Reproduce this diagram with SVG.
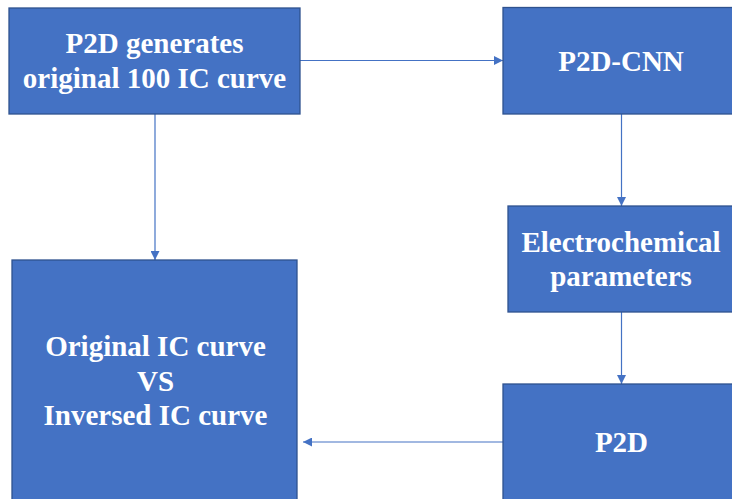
<svg xmlns="http://www.w3.org/2000/svg" width="732" height="499" viewBox="0 0 732 499">
  <style>
    .box { fill: #4472C4; stroke: #2F528F; stroke-width: 1.3; }
    .lbl { font-family: "Liberation Serif", "Times New Roman", serif; font-weight: bold; font-size: 29px; fill: #FFFFFF; text-anchor: middle; }
    .edge { stroke: #4472C4; stroke-width: 1.2; fill: none; marker-end: url(#arrow); }
  </style>
  <defs>
    <marker id="arrow" viewBox="0 0 10 10" refX="10" refY="5" markerWidth="9" markerHeight="9" markerUnits="userSpaceOnUse" orient="auto">
      <path d="M0,0 L10,5 L0,10 z" fill="#4472C4"/>
    </marker>
  </defs>
  <rect width="732" height="499" fill="#FFFFFF"/>

  <g id="connectors">
    <line class="edge" x1="300" y1="60.5" x2="503" y2="60.5"/>
    <line class="edge" x1="155" y1="114" x2="155" y2="260"/>
    <line class="edge" x1="621.5" y1="114" x2="621.5" y2="206"/>
    <line class="edge" x1="621.5" y1="312" x2="621.5" y2="384"/>
    <line class="edge" x1="503" y1="442" x2="303" y2="442"/>
  </g>

  <g id="p2d-generates">
    <rect class="box" x="9" y="8" width="291" height="106"/>
    <text class="lbl" x="154.5" y="53">P2D generates</text>
    <text class="lbl" x="154.5" y="88">original 100 IC curve</text>
  </g>

  <g id="p2d-cnn">
    <rect class="box" x="503" y="7.5" width="237" height="106.5"/>
    <text class="lbl" x="621" y="71">P2D-CNN</text>
  </g>

  <g id="electrochemical-parameters">
    <rect class="box" x="508" y="206" width="228" height="106"/>
    <text class="lbl" x="621" y="252">Electrochemical</text>
    <text class="lbl" x="621" y="286">parameters</text>
  </g>

  <g id="p2d">
    <rect class="box" x="503" y="384" width="237" height="130"/>
    <text class="lbl" x="621.5" y="452">P2D</text>
  </g>

  <g id="comparison">
    <rect class="box" x="12" y="260" width="285" height="250"/>
    <text class="lbl" x="155.5" y="356">Original IC curve</text>
    <text class="lbl" x="155.5" y="391">VS</text>
    <text class="lbl" x="155.5" y="425">Inversed IC curve</text>
  </g>
</svg>
